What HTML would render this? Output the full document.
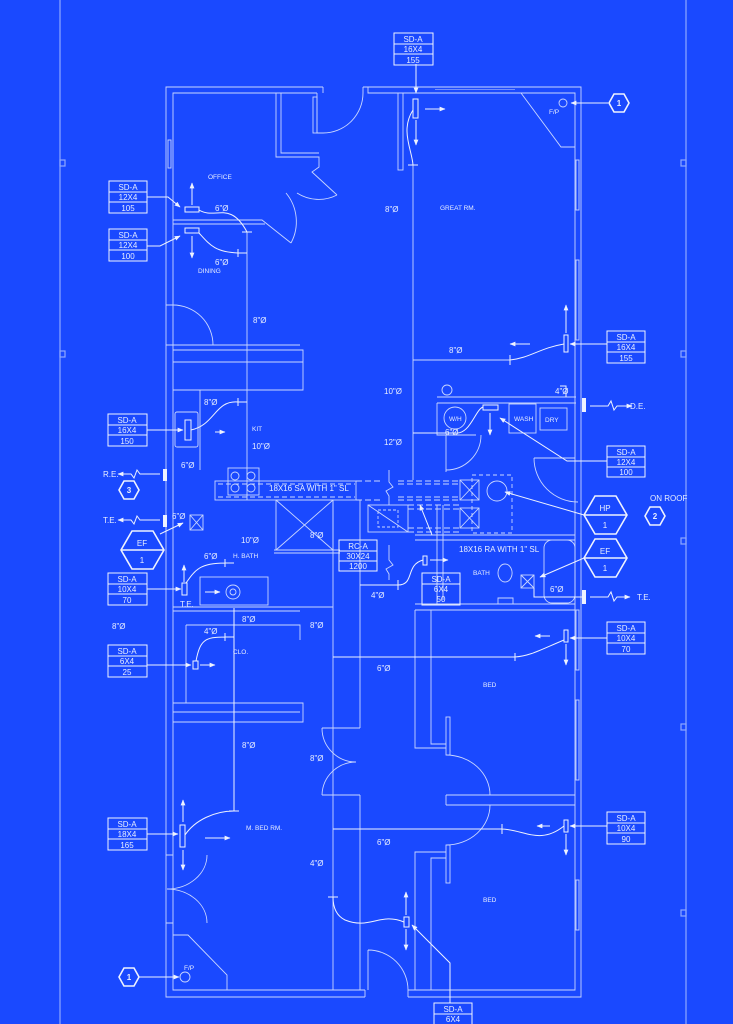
<!DOCTYPE html>
<html><head><meta charset="utf-8"><style>
html,body{margin:0;padding:0;background:#1a49ff;}
svg{display:block}
text{font-family:"Liberation Sans",sans-serif;fill:#e8eeff}
</style></head><body>
<svg width="733" height="1024" viewBox="0 0 733 1024" xmlns="http://www.w3.org/2000/svg">
<defs>
<marker id="ah" viewBox="0 0 10 10" refX="9" refY="5" markerWidth="6" markerHeight="6" orient="auto"><path d="M0,1 L10,5 L0,9 Z" fill="#eef2ff"/></marker>
</defs>
<rect width="733" height="1024" fill="#1a49ff"/>
<g stroke="#8fa8ff" stroke-width="1.2" fill="none">
<line x1="60" y1="0" x2="60" y2="1024"/><line x1="686" y1="0" x2="686" y2="1024"/>
<rect x="60" y="160" width="5" height="6"/><rect x="60" y="351" width="5" height="6"/>
<rect x="681" y="160" width="5" height="6"/><rect x="681" y="351" width="5" height="6"/><rect x="681" y="538" width="5" height="6"/><rect x="681" y="724" width="5" height="6"/><rect x="681" y="910" width="5" height="6"/>
</g>
<g stroke="#c9d6ff" stroke-width="0.9" fill="none">
<path d="M323,87 H166 V997 H365 M408,997 H581 V87 H363"/>
<path d="M317,93 H173 V990 H365 M408,990 H575 V93 H368 V87"/>
<path d="M323,87 V93 M363,87 V93"/>
<path d="M435,89.5 H515" stroke-width="0.6"/>
<rect x="168" y="140" width="3" height="28"/><rect x="576" y="160" width="3" height="50"/><rect x="576" y="260" width="3" height="80"/>
<rect x="576" y="610" width="3" height="60"/><rect x="576" y="700" width="3" height="80"/><rect x="576" y="880" width="3" height="50"/>
<path d="M317,93 V133 H323 M323,133 A40,40 0 0 0 363,93"/>
<rect x="313" y="97" width="4" height="36"/>
<rect x="398" y="93" width="5" height="77"/>
<path d="M521,93 L561,147 H575"/>
<path d="M276,93 V157 H319 V167 L312,172 L337,195"/><path d="M281,93 V153 H319"/>
<path d="M337,195 A40,40 0 0 1 297,193"/>
<path d="M173,220 H262 L291,243 M173,224 H265"/>
<path d="M291,243 A45,45 0 0 0 286,193"/>
<path d="M166,305 H173 M213,345 A40,40 0 0 0 173,305"/>
<path d="M166,345 H300 M173,350 H303 V390 H173 M173,362 H303"/>
<path d="M200,390 V470"/>
<rect x="175" y="412" width="23" height="35" rx="2"/>
<rect x="228" y="468" width="31" height="27"/>
<circle cx="235" cy="476" r="4"/><circle cx="251" cy="476" r="4"/><circle cx="235" cy="488" r="4"/><circle cx="251" cy="488" r="4"/>
<rect x="215" y="481" width="141" height="19"/>
<path d="M218,484 H355 M218,497 H355" stroke-dasharray="5,3"/>
<path d="M398,481 H460 M398,500 H460 M398,484 H460 M398,497 H460" stroke-dasharray="6,3"/>
<path d="M356,481 H382 M356,500 H382" stroke-dasharray="6,3"/>
<path d="M389,470 V482 L393,487 L386,491 L389,496 V505"/>
<rect x="460" y="480" width="19" height="20"/><path d="M460,480 L479,500 M479,480 L460,500"/>
<rect x="460" y="508" width="19" height="20"/><path d="M460,508 L479,528 M479,508 L460,528"/>
<rect x="472" y="475" width="40" height="58" stroke-dasharray="4,3"/>
<circle cx="497" cy="491" r="10"/>
<rect x="368" y="505" width="40" height="27"/><path d="M368,505 L408,532"/>
<rect x="378" y="510" width="20" height="17" stroke-dasharray="3,2"/>
<path d="M408,505 H460 M408,532 H460 M408,509 H460 M408,528 H460" stroke-dasharray="6,3"/>
<path d="M389,545 V560 L393,565 L386,569 L389,574 V580"/>
<rect x="276" y="500" width="57" height="50"/><path d="M276,500 L333,550 M333,500 L276,550"/>
<path d="M274,550 H340 M274,553 H340"/>
<path d="M247,232 V500"/>
<path d="M333,500 V990 M360,500 V728 M360,795 V990"/>
<path d="M413,165 V480"/>
<path d="M437,505 V605 M443,505 V600"/>
<path d="M437,397 H576 M437,403 H576 M437,403 V435 H476"/>
<rect x="509" y="404" width="27" height="29"/><rect x="540" y="408" width="27" height="22"/>
<circle cx="455" cy="418" r="11"/>
<path d="M481,435 A35,35 0 0 1 446,470 M446,435 V472"/>
<path d="M534,458 H575 M534,458 A44,44 0 0 0 578,502"/>
<path d="M413,360 H510"/>
<path d="M415,535 H575 M415,540 H575"/>
<rect x="544" y="540" width="31" height="63" rx="8"/>
<path d="M505,582 a7,9 0 1 1 0.1,0 M498,598 H513 V604 H498 Z"/>
<rect x="521" y="575" width="13" height="13"/><path d="M521,575 L534,588 M534,575 L521,588"/>
<rect x="422" y="573" width="38" height="32"/>
<path d="M415,604 H575 M415,610 H575"/>
<path d="M415,610 V748 H446 M431,610 V744 H446"/>
<rect x="446" y="717" width="4" height="38"/>
<path d="M446,795 H575 M446,805 H575 M446,795 V805"/>
<path d="M446,755 A44,40 0 0 1 490,795 M446,845 A44,40 0 0 0 490,805"/>
<path d="M415,990 V852 H446 M431,990 V858 H446"/>
<rect x="446" y="845" width="4" height="38"/>
<path d="M368,950 A40,40 0 0 1 408,990 M368,950 V990 M365,990 V997 M408,990 V997"/>
<path d="M322,728 H360 M322,795 H360 M322,728 A34,34 0 0 0 356,762 M322,795 A34,34 0 0 1 356,762"/>
<path d="M173,607 H333 M173,611 H300"/>
<rect x="200" y="577" width="68" height="28"/>
<circle cx="233" cy="592" r="7"/><circle cx="233" cy="592" r="3"/>
<rect x="190" y="515" width="13" height="15"/><path d="M190,515 L203,530 M203,515 L190,530"/>
<path d="M186,625 H300 V640 M186,625 V703"/>
<path d="M173,703 H303 V722 H173 M173,712 H300"/>
<path d="M166,855 H173 M166,923 H173 M207,855 A40,34 0 0 1 167,889 M167,889 A40,34 0 0 1 207,923"/>
<path d="M173,935 H188 L227,975 V990"/>
<circle cx="185" cy="977" r="5"/>
<circle cx="563" cy="103" r="4"/>
<circle cx="447" cy="390" r="5"/>
</g>
<g stroke="#eef2ff" stroke-width="1" fill="none">
<path d="M416,64 V93" marker-end="url(#ah)"/>
<rect x="413" y="99" width="5" height="19"/>
<path d="M425,109 H445" marker-end="url(#ah)"/><path d="M416,120 V145" marker-end="url(#ah)"/>
<path d="M413,110 C400,130 412,150 413,165 M408,165 H418"/>
<rect x="185" y="207" width="14" height="5"/><rect x="185" y="228" width="14" height="5"/>
<path d="M192,205 V183" marker-end="url(#ah)"/><path d="M192,236 V258" marker-end="url(#ah)"/>
<path d="M199,210 C215,220 230,200 247,232 M242,232 H252"/>
<path d="M199,233 C210,245 215,252 238,253 H247 M238,249 V257"/>
<path d="M147,197 H168 L180,207" marker-end="url(#ah)"/><path d="M147,246 H160 L180,236" marker-end="url(#ah)"/>
<rect x="185" y="420" width="6" height="20"/>
<path d="M147,430 H183" marker-end="url(#ah)"/><path d="M215,432 H225" marker-end="url(#ah)"/>
<path d="M191,430 C215,425 215,400 238,402 H247 M238,398 V406"/>
<rect x="564" y="335" width="4" height="17"/>
<path d="M607,344 H570" marker-end="url(#ah)"/><path d="M530,344 H510" marker-end="url(#ah)"/><path d="M566,333 V305" marker-end="url(#ah)"/>
<path d="M564,344 C540,348 530,358 510,360 M510,355 V365"/>
<rect x="483" y="405" width="15" height="5"/>
<path d="M490,413 V435" marker-end="url(#ah)"/>
<path d="M413,433 H455 C470,435 475,410 483,407"/>
<path d="M607,461 H567 L500,418" marker-end="url(#ah)"/>
<path d="M566,397 V386 H560"/>
<path d="M584,515 L505,492" marker-end="url(#ah)"/>
<path d="M584,558 L540,577" marker-end="url(#ah)"/>
<path d="M534,588 V597 H582"/>
<rect x="423" y="556" width="4" height="9"/>
<path d="M430,560 H448" marker-end="url(#ah)"/>
<path d="M423,560 C405,565 415,585 398,585 H360 M398,580 V590"/>
<path d="M432,535 L420,505" marker-end="url(#ah)"/>
<rect x="182" y="583" width="5" height="12"/>
<path d="M147,589 H181" marker-end="url(#ah)"/><path d="M184,582 V565" marker-end="url(#ah)"/>
<path d="M205,592 H220" marker-end="url(#ah)"/>
<path d="M186,583 C195,570 200,563 225,563 H234 M225,559 V567"/>
<path d="M160,534 L183,523" marker-end="url(#ah)"/>
<rect x="193" y="661" width="5" height="8"/>
<path d="M147,665 H191" marker-end="url(#ah)"/><path d="M200,665 H215" marker-end="url(#ah)"/>
<path d="M196,661 C200,640 205,637 225,637 H234 M225,633 V641"/>
<path d="M234,608 V811"/>
<rect x="564" y="630" width="4" height="12"/>
<path d="M607,638 H570" marker-end="url(#ah)"/><path d="M550,636 H535" marker-end="url(#ah)"/><path d="M566,644 V665" marker-end="url(#ah)"/>
<path d="M564,640 C540,650 530,656 515,657 H333 M515,653 V661"/>
<rect x="564" y="820" width="4" height="12"/>
<path d="M607,826 H570" marker-end="url(#ah)"/><path d="M550,826 H537" marker-end="url(#ah)"/><path d="M566,834 V855" marker-end="url(#ah)"/>
<path d="M564,826 C540,845 525,830 502,829 H333 M502,824 V834"/>
<rect x="180" y="825" width="5" height="22"/>
<path d="M147,834 H178" marker-end="url(#ah)"/><path d="M183,822 V800" marker-end="url(#ah)"/><path d="M183,850 V870" marker-end="url(#ah)"/><path d="M205,838 H230" marker-end="url(#ah)"/>
<path d="M185,835 C195,820 215,811 234,811 M229,811 H239"/>
<rect x="404" y="917" width="5" height="10"/>
<path d="M406,915 V892" marker-end="url(#ah)"/><path d="M406,929 V950" marker-end="url(#ah)"/>
<path d="M404,922 C380,912 370,930 345,920 C335,915 333,905 333,897 M328,897 H338"/>
<path d="M450,1003 V963 L412,925" marker-end="url(#ah)"/>
<path d="M608,103 H571" marker-end="url(#ah)"/>
<path d="M138,977 H179" marker-end="url(#ah)"/>
<path d="M160,474 H140 L137,470 L134,478 L131,474 H118" marker-end="url(#ah)"/>
<path d="M160,520 H140 L137,516 L134,524 L131,520 H118" marker-end="url(#ah)"/>
<path d="M590,406 H608 L611,401 L614,410 L617,406 H632" marker-end="url(#ah)"/>
<path d="M590,597 H608 L611,592 L614,601 L617,597 H630" marker-end="url(#ah)"/>
</g>
<g fill="#eef2ff">
<rect x="163" y="469" width="4" height="12"/><rect x="163" y="515" width="4" height="12"/>
<rect x="582" y="398" width="4" height="14"/><rect x="582" y="590" width="4" height="14"/>
</g>
<g stroke="#eef2ff" stroke-width="1" fill="none">
<rect x="394" y="33" width="39" height="32"/><path d="M394,44 H433 M394,54 H433"/>
<rect x="109" y="181" width="38" height="32"/><path d="M109,192 H147 M109,202 H147"/>
<rect x="109" y="229" width="38" height="32"/><path d="M109,240 H147 M109,250 H147"/>
<rect x="607" y="331" width="38" height="32"/><path d="M607,342 H645 M607,352 H645"/>
<rect x="108" y="414" width="39" height="32"/><path d="M108,425 H147 M108,435 H147"/>
<rect x="607" y="446" width="38" height="31"/><path d="M607,457 H645 M607,467 H645"/>
<rect x="339" y="540" width="38" height="31"/><path d="M339,551 H377 M339,561 H377"/>
<rect x="108" y="573" width="39" height="32"/><path d="M108,584 H147 M108,594 H147"/>
<rect x="422" y="573" width="38" height="32"/><path d="M422,584 H460"/>
<rect x="607" y="622" width="38" height="32"/><path d="M607,633 H645 M607,643 H645"/>
<rect x="108" y="645" width="39" height="32"/><path d="M108,656 H147 M108,666 H147"/>
<rect x="607" y="812" width="38" height="32"/><path d="M607,823 H645 M607,833 H645"/>
<rect x="108" y="818" width="39" height="32"/><path d="M108,829 H147 M108,839 H147"/>
<rect x="434" y="1003" width="38" height="30"/><path d="M434,1014 H472"/>
</g>
<g stroke="#eef2ff" stroke-width="1.6" fill="none">
<path d="M584,515 L595,496 H616 L627,515 L616,534 H595 Z M584,515 H627"/>
<path d="M584,558 L595,539 H616 L627,558 L616,577 H595 Z M584,558 H627"/>
<path d="M121,550 L132,531 H153 L164,550 L153,569 H132 Z M121,550 H164"/>
<path d="M609,103 L614,94 H624 L629,103 L624,112 H614 Z"/>
<path d="M119,977 L124,968 H134 L139,977 L134,986 H124 Z"/>
<path d="M119,490 L124,481 H134 L139,490 L134,499 H124 Z"/>
<path d="M645,516 L650,507 H660 L665,516 L660,525 H650 Z"/>
</g>
<g font-size="8" text-anchor="middle">
<text x="413" y="42">SD-A</text><text x="413" y="52">16X4</text><text x="413" y="63">155</text>
<text x="128" y="190">SD-A</text><text x="128" y="200">12X4</text><text x="128" y="211">105</text>
<text x="128" y="238">SD-A</text><text x="128" y="248">12X4</text><text x="128" y="259">100</text>
<text x="626" y="340">SD-A</text><text x="626" y="350">16X4</text><text x="626" y="361">155</text>
<text x="127" y="423">SD-A</text><text x="127" y="433">16X4</text><text x="127" y="444">150</text>
<text x="626" y="455">SD-A</text><text x="626" y="465">12X4</text><text x="626" y="475">100</text>
<text x="358" y="549">RC-A</text><text x="358" y="559">30X24</text><text x="358" y="569">1200</text>
<text x="127" y="582">SD-A</text><text x="127" y="592">10X4</text><text x="127" y="603">70</text>
<text x="441" y="582">SD-A</text><text x="441" y="592">6X4</text><text x="441" y="602">50</text>
<text x="626" y="631">SD-A</text><text x="626" y="641">10X4</text><text x="626" y="652">70</text>
<text x="127" y="654">SD-A</text><text x="127" y="664">6X4</text><text x="127" y="675">25</text>
<text x="626" y="821">SD-A</text><text x="626" y="831">10X4</text><text x="626" y="842">90</text>
<text x="127" y="827">SD-A</text><text x="127" y="837">18X4</text><text x="127" y="848">165</text>
<text x="453" y="1012">SD-A</text><text x="453" y="1022">6X4</text>
<text x="605" y="511">HP</text><text x="605" y="528">1</text>
<text x="605" y="554">EF</text><text x="605" y="571">1</text>
<text x="142" y="546">EF</text><text x="142" y="563">1</text>
<text x="619" y="106" font-weight="bold">1</text><text x="129" y="980" font-weight="bold">1</text>
<text x="129" y="493" font-weight="bold">3</text><text x="655" y="519" font-weight="bold">2</text>
</g>
<g font-size="8">
<text x="650" y="501">ON ROOF</text>
<text x="103" y="477">R.E.</text><text x="103" y="523">T.E.</text>
<text x="630" y="409">D.E.</text><text x="637" y="600">T.E.</text>
<text x="269" y="491">18X16 SA WITH 1" SL</text>
<text x="459" y="552">18X16 RA WITH 1" SL</text>
<text x="215" y="211">6"Ø</text><text x="385" y="212">8"Ø</text><text x="215" y="265">6"Ø</text><text x="253" y="323">8"Ø</text>
<text x="449" y="353">8"Ø</text><text x="384" y="394">10"Ø</text><text x="555" y="394">4"Ø</text>
<text x="204" y="405">8"Ø</text><text x="252" y="449">10"Ø</text><text x="384" y="445">12"Ø</text><text x="445" y="435">6"Ø</text>
<text x="181" y="468">6"Ø</text><text x="172" y="519">6"Ø</text><text x="241" y="543">10"Ø</text><text x="204" y="559">6"Ø</text>
<text x="310" y="538">8"Ø</text><text x="371" y="598">4"Ø</text><text x="550" y="592">6"Ø</text>
<text x="112" y="629">8"Ø</text><text x="242" y="622">8"Ø</text><text x="310" y="628">8"Ø</text><text x="204" y="634">4"Ø</text>
<text x="377" y="671">6"Ø</text><text x="242" y="748">8"Ø</text><text x="310" y="761">8"Ø</text>
<text x="377" y="845">6"Ø</text><text x="310" y="866">4"Ø</text>
<text x="180" y="607">T.E.</text>
</g>
<g font-size="6.5" style="fill:#b9c9ff">
<text x="208" y="179">OFFICE</text><text x="440" y="210">GREAT RM.</text><text x="198" y="273">DINING</text>
<text x="252" y="431">KIT</text><text x="549" y="114">F/P</text><text x="233" y="558">H. BATH</text>
<text x="473" y="575">BATH</text><text x="233" y="654">CLO.</text><text x="483" y="687">BED</text>
<text x="246" y="830">M. BED RM.</text><text x="483" y="902">BED</text><text x="184" y="970">F/P</text>
<text x="514" y="421">WASH</text><text x="545" y="422">DRY</text><text x="449" y="421">W/H</text>
</g>
</svg>
</body></html>
